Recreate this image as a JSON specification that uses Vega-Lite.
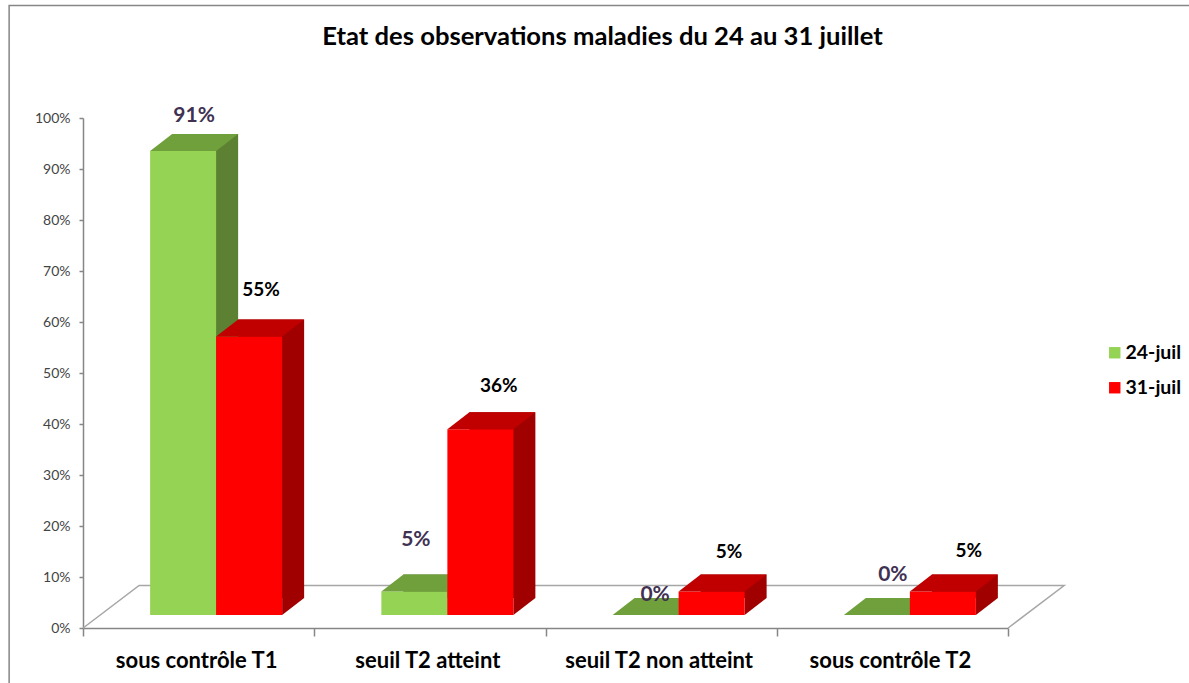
{
"$schema":"https://vega.github.io/schema/vega-lite/v6.json",
"autosize":{"type":"none"},
"padding":{"left":83,"top":118,"right":181,"bottom":55},
"width":925,"height":510,
"background":"white",
"title":{"text":"Etat des observations maladies du 24 au 31 juillet","font":"Lato","fontSize":25.6,"fontWeight":"bold","color":"#000000","anchor":"middle","frame":"group","dx":57,"offset":-48},
"config":{"view":{"stroke":null},"font":"Lato"},
"data":{"values":[
{"category":"sous contrôle T1","series":"24-juil","value":0.91},
{"category":"seuil T2 atteint","series":"24-juil","value":0.046},
{"category":"seuil T2 non atteint","series":"24-juil","value":0},
{"category":"sous contrôle T2","series":"24-juil","value":0},
{"category":"sous contrôle T1","series":"31-juil","value":0.546},
{"category":"seuil T2 atteint","series":"31-juil","value":0.364},
{"category":"seuil T2 non atteint","series":"31-juil","value":0.046},
{"category":"sous contrôle T2","series":"31-juil","value":0.046}
]},
"encoding":{
"x":{"field":"category","type":"nominal","sort":null,"scale":{"paddingInner":0,"paddingOuter":0},"axis":{"title":null,"labelAngle":0,"labelFont":"Lato","labelFontSize":22,"labelFontWeight":"bold","labelColor":"#000000","labelPadding":14,"labelOffset":-2.5,"labelLimit":400,"tickBand":"extent","tickSize":8,"tickColor":"#868686","tickWidth":1.5,"domainColor":"#868686","domainWidth":1.5,"grid":false}},
"y":{"field":"value","type":"quantitative","scale":{"domain":[0,1],"nice":false},"axis":{"title":null,"format":".0%","tickCount":11,"values":[0,0.1,0.2,0.3,0.4,0.5,0.6,0.7,0.8,0.9,1],"labelFont":"Lato","labelFontSize":14,"labelColor":"#444444","labelPadding":9,"tickSize":4,"tickColor":"#868686","tickWidth":1.5,"domainColor":"#868686","domainWidth":1.5,"grid":false}}
},
"layer":[
{"transform":[{"filter":"datum.category==='sous contrôle T1' && datum.series==='24-juil'"}],
 "mark":{"type":"point","filled":false,"opacity":1,"size":4,"stroke":"#868686","strokeWidth":1.5,"shape":"M1000,-622.5 L-189.5,-622.5 L-189.5,60"},
 "encoding":{"y":{"datum":0}}},
{"transform":[{"filter":"datum.category==='sous contrôle T1' && datum.series==='24-juil'"}],
 "mark":{"type":"point","filled":false,"opacity":1,"size":4,"stroke":"#A6A6A6","strokeWidth":1.5,"shape":"M-115.5,0 L-59.5,-42.5 L865.5,-42.5 L809.5,0"},
 "encoding":{"y":{"datum":0}}},

{"transform":[{"filter":"datum.series==='24-juil' && datum.value>0"}],
 "mark":{"type":"bar","width":66,"color":"#5C8132","xOffset":6.5,"yOffset":-30,"y2Offset":-30}},
{"transform":[{"filter":"datum.series==='24-juil' && datum.value>0"}],
 "mark":{"type":"point","filled":true,"opacity":1,"size":4,"color":"#5C8132","xOffset":-15.5,"yOffset":-13,"shape":"M33,0 L33,-17 L55,-17 Z"},
 "encoding":{"y":{"datum":0}}},
{"transform":[{"filter":"datum.series==='24-juil'"}],
 "mark":{"type":"bar","width":66,"xOffset":-15.5,"yOffset":-13,"y2Offset":-13},
 "encoding":{"color":{"field":"series","type":"nominal","scale":{"domain":["24-juil","31-juil"],"range":["#94D353","#FF0000"]},"legend":{"title":null,"orient":"none","legendX":1022,"legendY":225,"symbolType":"square","symbolSize":130,"symbolStrokeWidth":0,"labelFont":"Lato","labelFontSize":19.5,"labelFontWeight":"bold","labelColor":"#000000","rowPadding":14,"labelOffset":1}}}},
{"transform":[{"filter":"datum.series==='24-juil'"}],
 "mark":{"type":"point","filled":true,"opacity":1,"size":4,"color":"#70A03C","xOffset":-15.5,"yOffset":-13,"shape":"M-33,0 L33,0 L55,-17 L-11,-17 Z"}},

{"transform":[{"filter":"datum.series==='31-juil' && datum.value>0"}],
 "mark":{"type":"bar","width":66,"color":"#A00000","xOffset":72.5,"yOffset":-30,"y2Offset":-30}},
{"transform":[{"filter":"datum.series==='31-juil' && datum.value>0"}],
 "mark":{"type":"point","filled":true,"opacity":1,"size":4,"color":"#A00000","xOffset":50.5,"yOffset":-13,"shape":"M33,0 L33,-17 L55,-17 Z"},
 "encoding":{"y":{"datum":0}}},
{"transform":[{"filter":"datum.series==='31-juil'"}],
 "mark":{"type":"bar","width":66,"xOffset":50.5,"yOffset":-13,"y2Offset":-13},
 "encoding":{"color":{"field":"series","type":"nominal"}}},
{"transform":[{"filter":"datum.series==='31-juil'"}],
 "mark":{"type":"point","filled":true,"opacity":1,"size":4,"color":"#C00000","xOffset":50.5,"yOffset":-13,"shape":"M-33,0 L33,0 L55,-17 L-11,-17 Z"}},

{"transform":[{"filter":"datum.series==='24-juil' && datum.category==='sous contrôle T1'"}],
 "mark":{"type":"text","font":"Lato","fontSize":21,"fontWeight":"bold","color":"#403152","baseline":"middle","dx":-4.5,"dy":-48},
 "encoding":{"text":{"field":"value","type":"quantitative","format":".0%"}}},
{"transform":[{"filter":"datum.series==='24-juil' && datum.category==='seuil T2 atteint'"}],
 "mark":{"type":"text","font":"Lato","fontSize":21,"fontWeight":"bold","color":"#403152","baseline":"middle","dx":-14,"dy":-65},
 "encoding":{"text":{"field":"value","type":"quantitative","format":".0%"}}},
{"transform":[{"filter":"datum.series==='24-juil' && datum.category==='seuil T2 non atteint'"}],
 "mark":{"type":"text","font":"Lato","fontSize":21,"fontWeight":"bold","color":"#403152","baseline":"middle","dx":-6,"dy":-33},
 "encoding":{"text":{"field":"value","type":"quantitative","format":".0%"}}},
{"transform":[{"filter":"datum.series==='24-juil' && datum.category==='sous contrôle T2'"}],
 "mark":{"type":"text","font":"Lato","fontSize":21,"fontWeight":"bold","color":"#403152","baseline":"middle","dx":0.5,"dy":-53},
 "encoding":{"text":{"field":"value","type":"quantitative","format":".0%"}}},
{"transform":[{"filter":"datum.series==='31-juil' && datum.category==='sous contrôle T1'"}],
 "mark":{"type":"text","font":"Lato","fontSize":19,"fontWeight":"bold","color":"#000000","baseline":"middle","dx":62.5,"dy":-60},
 "encoding":{"text":{"field":"value","type":"quantitative","format":".0%"}}},
{"transform":[{"filter":"datum.series==='31-juil' && datum.category==='seuil T2 atteint'"}],
 "mark":{"type":"text","font":"Lato","fontSize":19,"fontWeight":"bold","color":"#000000","baseline":"middle","dx":69,"dy":-56},
 "encoding":{"text":{"field":"value","type":"quantitative","format":".0%"}}},
{"transform":[{"filter":"datum.series==='31-juil' && datum.category==='seuil T2 non atteint'"}],
 "mark":{"type":"text","font":"Lato","fontSize":19,"fontWeight":"bold","color":"#000000","baseline":"middle","dx":68,"dy":-53},
 "encoding":{"text":{"field":"value","type":"quantitative","format":".0%"}}},
{"transform":[{"filter":"datum.series==='31-juil' && datum.category==='sous contrôle T2'"}],
 "mark":{"type":"text","font":"Lato","fontSize":19,"fontWeight":"bold","color":"#000000","baseline":"middle","dx":76.5,"dy":-54},
 "encoding":{"text":{"field":"value","type":"quantitative","format":".0%"}}}
]
}
